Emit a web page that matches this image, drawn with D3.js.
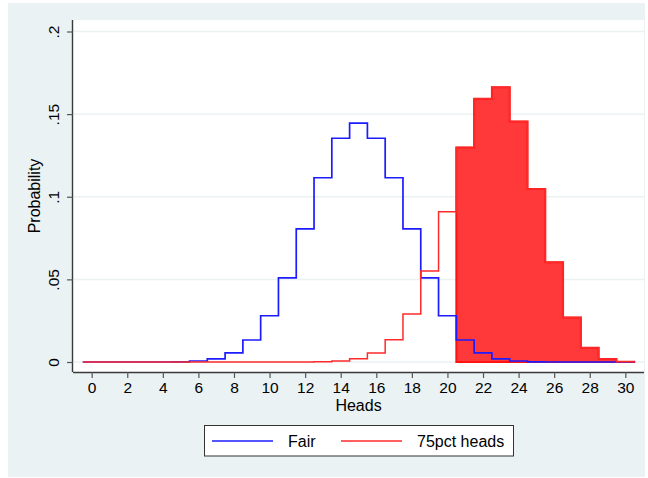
<!DOCTYPE html>
<html>
<head>
<meta charset="utf-8">
<script src="https://cdn.jsdelivr.net/npm/d3@7"></script>
<style>
  body { margin: 0; background: #fff; }
  text { font-family: "Liberation Sans", Arial, sans-serif; fill: #000; }
</style>
</head>
<body>
<div id="chart"></div>
<script>
var heads = d3.range(0, 31);

// P(heads = k), 30 tosses
var fair = [0, 0, 0, 0, 0, .0001, .0006, .0019, .0055, .0133,
            .0280, .0509, .0806, .1115, .1354, .1445, .1354, .1115, .0806, .0509,
            .0280, .0133, .0055, .0019, .0006, .0001, 0, 0, 0, 0, 0];

var p75 = [0, 0, 0, 0, 0, 0, 0, 0, 0, 0,
           0, 0, 0, .0002, .0006, .0019, .0054, .0134, .0291, .0551,
           .0909, .1298, .1593, .1662, .1455, .1047, .0604, .0269, .0086, .0018, .0002];

var xTicks = d3.range(0, 31, 2);
var yTicks = [0, .05, .1, .15, .2];
var yTickLabels = ['0', '.05', '.1', '.15', '.2'];
var shadeFrom = 21;

var seriesNames = ['Fair', '75pct heads'];
var seriesColors = ['#1c1cff', '#ff2a2a'];

(function() {
  var width = 648, height = 478;

  var svg = d3.select('#chart')
            .append('svg')
            .attr('width', width)
            .attr('height', height);

  var plot = { left: 73, right: 644, top: 20, bottom: 372 };

  var x = d3.scaleLinear().domain([-1.05, 31.05]).range([plot.left, plot.right]);
  var y = d3.scaleLinear().domain([-0.00605, 0.20696]).range([plot.bottom, plot.top]);

  // graph region
  svg.append('rect')
    .attr('x', 8).attr('y', 3)
    .attr('width', 637).attr('height', 474)
    .attr('fill', '#eaf2f3');

  svg.append('rect')
    .attr('x', plot.left).attr('y', plot.top)
    .attr('width', plot.right - plot.left).attr('height', plot.bottom - plot.top)
    .attr('fill', '#fff');

  // grid
  svg.append('g')
    .selectAll('line')
    .data(yTicks)
    .enter().append('line')
    .attr('x1', plot.left).attr('x2', plot.right)
    .attr('y1', function(d) { return y(d); })
    .attr('y2', function(d) { return y(d); })
    .attr('stroke', '#eaf2f3')
    .attr('stroke-width', 1.5);

  function steps(values, from) {
    var pts = [];
    for (var i = from; i < values.length; i++) {
      pts.push([heads[i] - 0.5, values[i]]);
      pts.push([heads[i] + 0.5, values[i]]);
    }
    return pts;
  }

  var line = d3.line()
    .x(function(d) { return x(d[0]); })
    .y(function(d) { return y(d[1]); });

  var area = d3.area()
    .x(function(d) { return x(d[0]); })
    .y0(y(0))
    .y1(function(d) { return y(d[1]); });

  // shaded tail of the 75pct curve
  svg.append('path')
    .datum(steps(p75, shadeFrom))
    .attr('d', area)
    .attr('fill', '#ff3939')
    .attr('stroke', '#ff1414')
    .attr('stroke-width', 2)
    .attr('stroke-linejoin', 'miter');

  svg.append('path')
    .datum(steps(fair, 0))
    .attr('d', line)
    .attr('fill', 'none')
    .attr('stroke', seriesColors[0])
    .attr('stroke-width', 1.7);

  svg.append('path')
    .datum(steps(p75, 0))
    .attr('d', line)
    .attr('fill', 'none')
    .attr('stroke', seriesColors[1])
    .attr('stroke-width', 1.5);

  // axes
  var xAxis = d3.axisBottom(x)
    .tickValues(xTicks)
    .tickSize(6)
    .tickPadding(4)
    .tickFormat(d3.format('d'));

  var gx = svg.append('g')
    .attr('transform', 'translate(0,' + plot.bottom + ')')
    .call(xAxis);
  gx.select('.domain').attr('d', 'M' + plot.left + ',0.5H' + plot.right);

  var yAxis = d3.axisLeft(y)
    .tickValues(yTicks)
    .tickSize(6)
    .tickFormat(function(d, i) { return yTickLabels[i]; });

  var gy = svg.append('g')
    .attr('transform', 'translate(' + plot.left + ',0)')
    .call(yAxis);
  gy.select('.domain').attr('d', 'M-0.5,' + plot.top + 'V' + plot.bottom);

  svg.selectAll('.domain').attr('stroke', '#3a3a3a').attr('stroke-width', 1.4);
  svg.selectAll('.tick line').attr('stroke', '#555').attr('stroke-width', 1.2);
  svg.selectAll('.tick text')
    .attr('font-family', '"Liberation Sans", Arial, sans-serif')
    .attr('font-size', 15.5)
    .attr('fill', '#000');

  gy.selectAll('.tick text')
    .attr('x', null).attr('dy', null)
    .attr('text-anchor', 'middle')
    .attr('transform', 'translate(-14.5,0) rotate(-90)');

  // titles
  svg.append('text')
    .attr('x', (plot.left + plot.right) / 2)
    .attr('y', 411)
    .attr('text-anchor', 'middle')
    .attr('font-size', 16)
    .text('Heads');

  svg.append('text')
    .attr('transform', 'translate(40,' + ((plot.top + plot.bottom) / 2) + ') rotate(-90)')
    .attr('text-anchor', 'middle')
    .attr('font-size', 16)
    .text('Probability');

  // legend
  var legend = svg.append('g');
  legend.append('rect')
    .attr('x', 204.5).attr('y', 425.5)
    .attr('width', 309).attr('height', 30.5)
    .attr('fill', '#fff')
    .attr('stroke', '#333')
    .attr('stroke-width', 1);

  var legendX = [212, 341];
  seriesNames.forEach(function(name, i) {
    legend.append('line')
      .attr('x1', legendX[i]).attr('x2', legendX[i] + 61)
      .attr('y1', 441).attr('y2', 441)
      .attr('stroke', seriesColors[i])
      .attr('stroke-width', 1.5);
    legend.append('text')
      .attr('x', legendX[i] + 76)
      .attr('y', 446.5)
      .attr('font-size', 16)
      .text(name);
  });
}());
</script>
</body>
</html>
